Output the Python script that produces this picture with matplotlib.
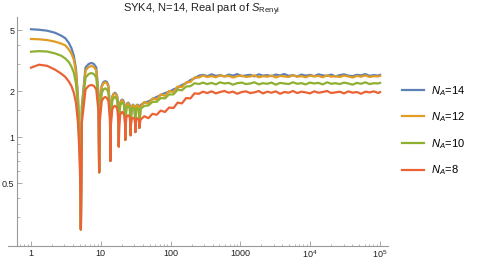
import matplotlib
matplotlib.use('Agg')
import matplotlib.pyplot as plt
from matplotlib.ticker import NullFormatter, FixedLocator

plt.rcParams['font.family'] = ['Liberation Sans', 'DejaVu Sans']
plt.rcParams['mathtext.fontset'] = 'custom'
plt.rcParams['mathtext.rm'] = 'Liberation Sans'
plt.rcParams['mathtext.it'] = 'Liberation Sans:italic'

# --- datos ---
t_early = [1.0, 1.3, 1.7, 2.2, 2.7, 3.1, 3.5, 3.8, 4.1, 4.4, 4.7, 4.95, 5.1, 5.18,
           5.35, 6.04, 6.68, 7.32, 7.96, 8.60, 9.29, 9.46,
           9.63, 10.31, 10.94, 11.58, 12.22, 12.85, 13.53, 13.7,
           13.88, 14.58, 15.24, 15.9, 16.56, 17.22, 17.92, 18.1,
           18.27, 18.96, 19.6, 20.25, 20.9, 21.54, 22.23, 22.4,
           22.58, 23.28, 23.94, 24.6, 25.26, 25.92, 26.62, 26.8,
           26.98, 27.68, 28.34, 29.0, 29.66, 30.32, 31.02, 31.2,
           31.38, 32.08, 32.74, 33.4, 34.06, 34.72, 35.42, 35.6]
t_late = [37, 42, 48, 55, 63, 72, 83, 95, 110, 126,
          145, 167, 192, 220, 255, 290, 335, 385, 445, 510,
          590, 680, 780, 900, 1040, 1200, 1380, 1590, 1830, 2100,
          2420, 2790, 3210, 3700, 4260, 4900, 5650, 6500, 7500, 8600,
          9900, 11400, 13100, 15100, 17400, 20000, 23000, 26500, 30500, 35100,
          40400, 46500, 53500, 61600, 70900, 81600, 94000, 100000]

s14_early = [5.06, 5.02, 4.95, 4.80, 4.60, 4.42, 4.10, 3.80, 3.40, 2.80, 1.85, 1.05, 0.58, 0.25,
             1.60, 2.85, 3.00, 3.05, 3.00, 2.85, 1.90, 0.59,
             1.50, 2.17, 2.29, 2.32, 2.29, 2.17, 1.55, 0.70,
             1.35, 1.84, 1.92, 1.95, 1.92, 1.84, 1.42, 0.87,
             1.33, 1.68, 1.74, 1.76, 1.74, 1.68, 1.38, 0.96,
             1.33, 1.62, 1.66, 1.68, 1.66, 1.62, 1.37, 1.03,
             1.34, 1.58, 1.61, 1.63, 1.61, 1.58, 1.37, 1.08,
             1.36, 1.59, 1.62, 1.63, 1.62, 1.59, 1.40, 1.15]
s12_early = [4.37, 4.35, 4.30, 4.20, 4.08, 3.97, 3.72, 3.50, 3.20, 2.65, 1.80, 1.00, 0.55, 0.25,
             1.55, 2.72, 2.87, 2.91, 2.87, 2.72, 1.82, 0.59,
             1.48, 2.13, 2.25, 2.28, 2.25, 2.13, 1.52, 0.70,
             1.34, 1.82, 1.90, 1.93, 1.90, 1.82, 1.41, 0.87,
             1.32, 1.66, 1.72, 1.74, 1.72, 1.66, 1.37, 0.96,
             1.32, 1.60, 1.64, 1.66, 1.64, 1.60, 1.36, 1.03,
             1.33, 1.57, 1.60, 1.62, 1.60, 1.57, 1.36, 1.08,
             1.35, 1.58, 1.61, 1.62, 1.61, 1.58, 1.39, 1.15]
s10_early = [3.61, 3.64, 3.62, 3.52, 3.40, 3.26, 3.08, 2.88, 2.64, 2.25, 1.60, 0.92, 0.50, 0.25,
             1.45, 2.45, 2.58, 2.62, 2.58, 2.45, 1.68, 0.59,
             1.38, 1.95, 2.05, 2.08, 2.05, 1.95, 1.42, 0.70,
             1.28, 1.73, 1.80, 1.83, 1.80, 1.73, 1.36, 0.87,
             1.29, 1.61, 1.66, 1.68, 1.66, 1.61, 1.34, 0.96,
             1.29, 1.55, 1.58, 1.60, 1.58, 1.55, 1.33, 1.03,
             1.30, 1.52, 1.55, 1.56, 1.55, 1.52, 1.33, 1.08,
             1.32, 1.52, 1.54, 1.55, 1.54, 1.52, 1.35, 1.15]
s8_early = [2.84, 2.97, 2.92, 2.76, 2.60, 2.47, 2.30, 2.15, 1.95, 1.68, 1.25, 0.78, 0.45, 0.25,
            1.25, 2.05, 2.16, 2.19, 2.16, 2.05, 1.45, 0.59,
            1.25, 1.72, 1.80, 1.83, 1.80, 1.72, 1.30, 0.70,
            1.17, 1.52, 1.58, 1.60, 1.58, 1.52, 1.25, 0.87,
            1.17, 1.40, 1.44, 1.46, 1.44, 1.40, 1.22, 0.96,
            1.18, 1.35, 1.38, 1.39, 1.38, 1.35, 1.22, 1.03,
            1.19, 1.31, 1.33, 1.34, 1.33, 1.31, 1.22, 1.08,
            1.20, 1.30, 1.32, 1.33, 1.32, 1.30, 1.23, 1.15]

s14_late = [1.62, 1.68, 1.71, 1.77, 1.83, 1.88, 1.94, 1.98, 2.05, 2.10,
            2.19, 2.25, 2.36, 2.42, 2.52,
            2.55, 2.50, 2.57, 2.51, 2.54, 2.49, 2.56, 2.52, 2.58, 2.50,
            2.53, 2.55, 2.49, 2.57, 2.52, 2.54, 2.50, 2.56, 2.53, 2.58,
            2.51, 2.54, 2.49, 2.56, 2.52, 2.55, 2.50, 2.57, 2.53, 2.51,
            2.56, 2.49, 2.54, 2.57, 2.52, 2.50, 2.55, 2.53, 2.58, 2.51,
            2.54, 2.52, 2.55]
s12_late = [1.58, 1.70, 1.65, 1.79, 1.76, 1.90, 1.86, 2.00, 1.97, 2.14,
            2.12, 2.28, 2.29, 2.45, 2.45,
            2.52, 2.47, 2.50, 2.46, 2.53, 2.49, 2.51, 2.45, 2.50, 2.52,
            2.47, 2.49, 2.53, 2.46, 2.50, 2.48, 2.52, 2.45, 2.51, 2.49,
            2.47, 2.53, 2.48, 2.50, 2.46, 2.52, 2.49, 2.51, 2.46, 2.53,
            2.48, 2.50, 2.47, 2.52, 2.49, 2.45, 2.51, 2.48, 2.53, 2.47,
            2.50, 2.49, 2.51]
s10_late = [1.53, 1.60, 1.61, 1.70, 1.70, 1.80, 1.79, 1.90, 1.90, 2.04,
            2.02, 2.14, 2.15, 2.25, 2.22,
            2.27, 2.22, 2.26, 2.21, 2.28, 2.24, 2.26, 2.20, 2.25, 2.27,
            2.22, 2.24, 2.28, 2.21, 2.25, 2.23, 2.27, 2.20, 2.26, 2.24,
            2.22, 2.28, 2.23, 2.25, 2.21, 2.27, 2.24, 2.26, 2.21, 2.28,
            2.23, 2.25, 2.22, 2.27, 2.24, 2.20, 2.26, 2.23, 2.28, 2.22,
            2.25, 2.24, 2.26]
s8_late = [1.30, 1.37, 1.33, 1.42, 1.40, 1.49, 1.46, 1.56, 1.55, 1.68,
           1.66, 1.80, 1.79, 1.93, 1.92,
           1.98, 1.94, 1.99, 1.93, 1.97, 2.00, 1.95, 1.98, 1.92, 1.97,
           1.99, 1.94, 1.96, 2.00, 1.93, 1.98, 1.95, 1.99, 1.92, 1.97,
           1.95, 2.00, 1.94, 1.98, 1.96, 1.93, 1.99, 1.95, 1.97, 2.00,
           1.94, 1.96, 1.98, 1.93, 1.99, 1.95, 1.97, 1.92, 1.98, 1.96,
           1.99, 1.94, 1.97]

labels = [r'$N_A$=14', r'$N_A$=12', r'$N_A$=10', r'$N_A$=8']
colores = ['#5E81B5', '#E19C24', '#8FB032', '#EB6235']

x_ticks = [1, 10, 100, 1000, 1e4, 1e5]
x_ticklabels = ['1', '10', '100', '1000', r'$10^4$', r'$10^5$']
y_ticks = [0.5, 1, 2, 5]
y_ticklabels = ['0.5', '1', '2', '5']

t = t_early + t_late
series = [s14_early + s14_late, s12_early + s12_late,
          s10_early + s10_late, s8_early + s8_late]

fig = plt.figure(figsize=(4.81, 2.64), dpi=100)
ax = fig.add_axes([8 / 481, 18 / 264, 380 / 481, 229 / 264])

for vals, c, lab in zip(series, colores, labels):
    ax.plot(t, vals, color=c, linewidth=1.6, label=lab)

ax.set_xscale('log')
ax.set_yscale('log')
ax.set_xlim(0.468, 1.3e5)
ax.set_ylim(0.195, 6.08)

# ejes estilo Mathematica
for s in ['top', 'right']:
    ax.spines[s].set_visible(False)
ax.spines['left'].set_position(('data', 0.63))
for s in ['left', 'bottom']:
    ax.spines[s].set_color('#999999')
    ax.spines[s].set_linewidth(0.8)

ax.set_xticks(x_ticks)
ax.set_xticklabels(x_ticklabels)
ax.xaxis.set_minor_locator(FixedLocator(
    [m * 10 ** e for e in range(-1, 5) for m in range(2, 10) if 0.63 < m * 10 ** e < 1.3e5]))
ax.xaxis.set_minor_formatter(NullFormatter())
ax.set_yticks(y_ticks)
ax.set_yticklabels(y_ticklabels)
ax.yaxis.set_minor_locator(FixedLocator([0.3, 0.4, 0.6, 0.7, 0.8, 0.9, 1.5, 3, 4]))
ax.yaxis.set_minor_formatter(NullFormatter())
ax.tick_params(which='major', direction='in', length=3.5, width=0.6, color='#999999',
               labelsize=6.5, labelcolor='#222222', pad=2)
ax.tick_params(which='minor', direction='in', length=1.8, width=0.5, color='#999999')

fig.text(202 / 481, 1 - 10 / 264, r'SYK4, N=14, Real part of $S_{\mathrm{Renyi}}$',
         ha='center', va='center', fontsize=8, color='#222222')

fig.legend(loc='center left', bbox_to_anchor=(402 / 481, 1 - 130.5 / 264), frameon=False,
           fontsize=8, handlelength=2.0, handletextpad=0.6, labelspacing=1.15,
           borderpad=0, borderaxespad=0)

fig.savefig('out.png', dpi=100)
